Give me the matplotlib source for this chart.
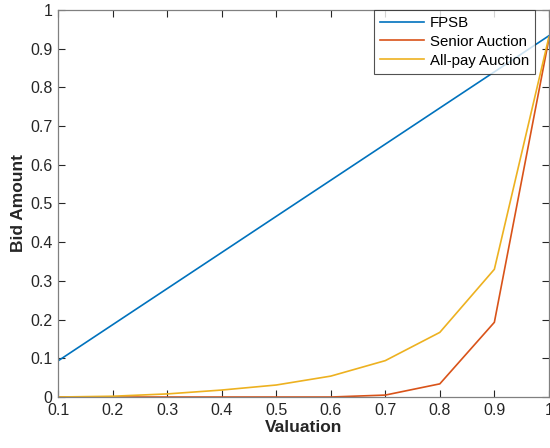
import numpy as np
import matplotlib.pyplot as plt

plt.rcParams['font.family'] = ['Liberation Sans', 'DejaVu Sans']

valuation = [0.1, 0.2, 0.3, 0.4, 0.5, 0.6, 0.7, 0.8, 0.9, 1.0]
fpsb = [0.0933, 0.1867, 0.28, 0.3733, 0.4667, 0.56, 0.6533, 0.7467, 0.84, 0.9333]
senior = [0.0, 0.0, 0.0, 0.0, 0.0, 0.0, 0.005, 0.034, 0.193, 0.925]
allpay = [0.0, 0.002, 0.008, 0.018, 0.031, 0.054, 0.094, 0.167, 0.33, 0.93]

fig = plt.figure(figsize=(5.5, 4.48), dpi=100)
ax = fig.add_axes([0.1055, 0.1138, 0.8925, 0.864])

ax.plot(valuation, fpsb, color='#0072BD', lw=1.2, label='FPSB')
ax.plot(valuation, senior, color='#D95319', lw=1.2, label='Senior Auction')
ax.plot(valuation, allpay, color='#EDB120', lw=1.2, label='All-pay Auction')

ax.set_xlim(0.1, 1)
ax.set_ylim(0, 1)
ax.set_xticks(np.arange(0.1, 1.01, 0.1))
ax.set_yticks(np.arange(0, 1.01, 0.1))
ax.set_xticklabels(['0.1', '0.2', '0.3', '0.4', '0.5', '0.6', '0.7', '0.8', '0.9', '1'])
ax.set_yticklabels(['0', '0.1', '0.2', '0.3', '0.4', '0.5', '0.6', '0.7', '0.8', '0.9', '1'])
ax.tick_params(direction='in', top=True, right=True, length=5, width=0.8,
               color='#262626', labelsize=11.5, labelcolor='#262626', pad=4)
for s in ax.spines.values():
    s.set_color('#808080')
    s.set_linewidth(0.9)

ax.set_xlabel('Valuation', fontsize=12.5, fontweight='bold', color='#262626', labelpad=2)
ax.set_ylabel('Bid Amount', fontsize=12.5, fontweight='bold', color='#262626', labelpad=3)

leg = ax.legend(loc='upper right', fontsize=10.8, frameon=True, fancybox=False,
                edgecolor='#262626', handlelength=2.9, borderpad=0.4,
                labelspacing=0.32, handletextpad=0.4, borderaxespad=0.0,
                bbox_to_anchor=(0.972, 1.0))
leg.get_frame().set_linewidth(0.8)

fig.savefig('out.png', dpi=100)
